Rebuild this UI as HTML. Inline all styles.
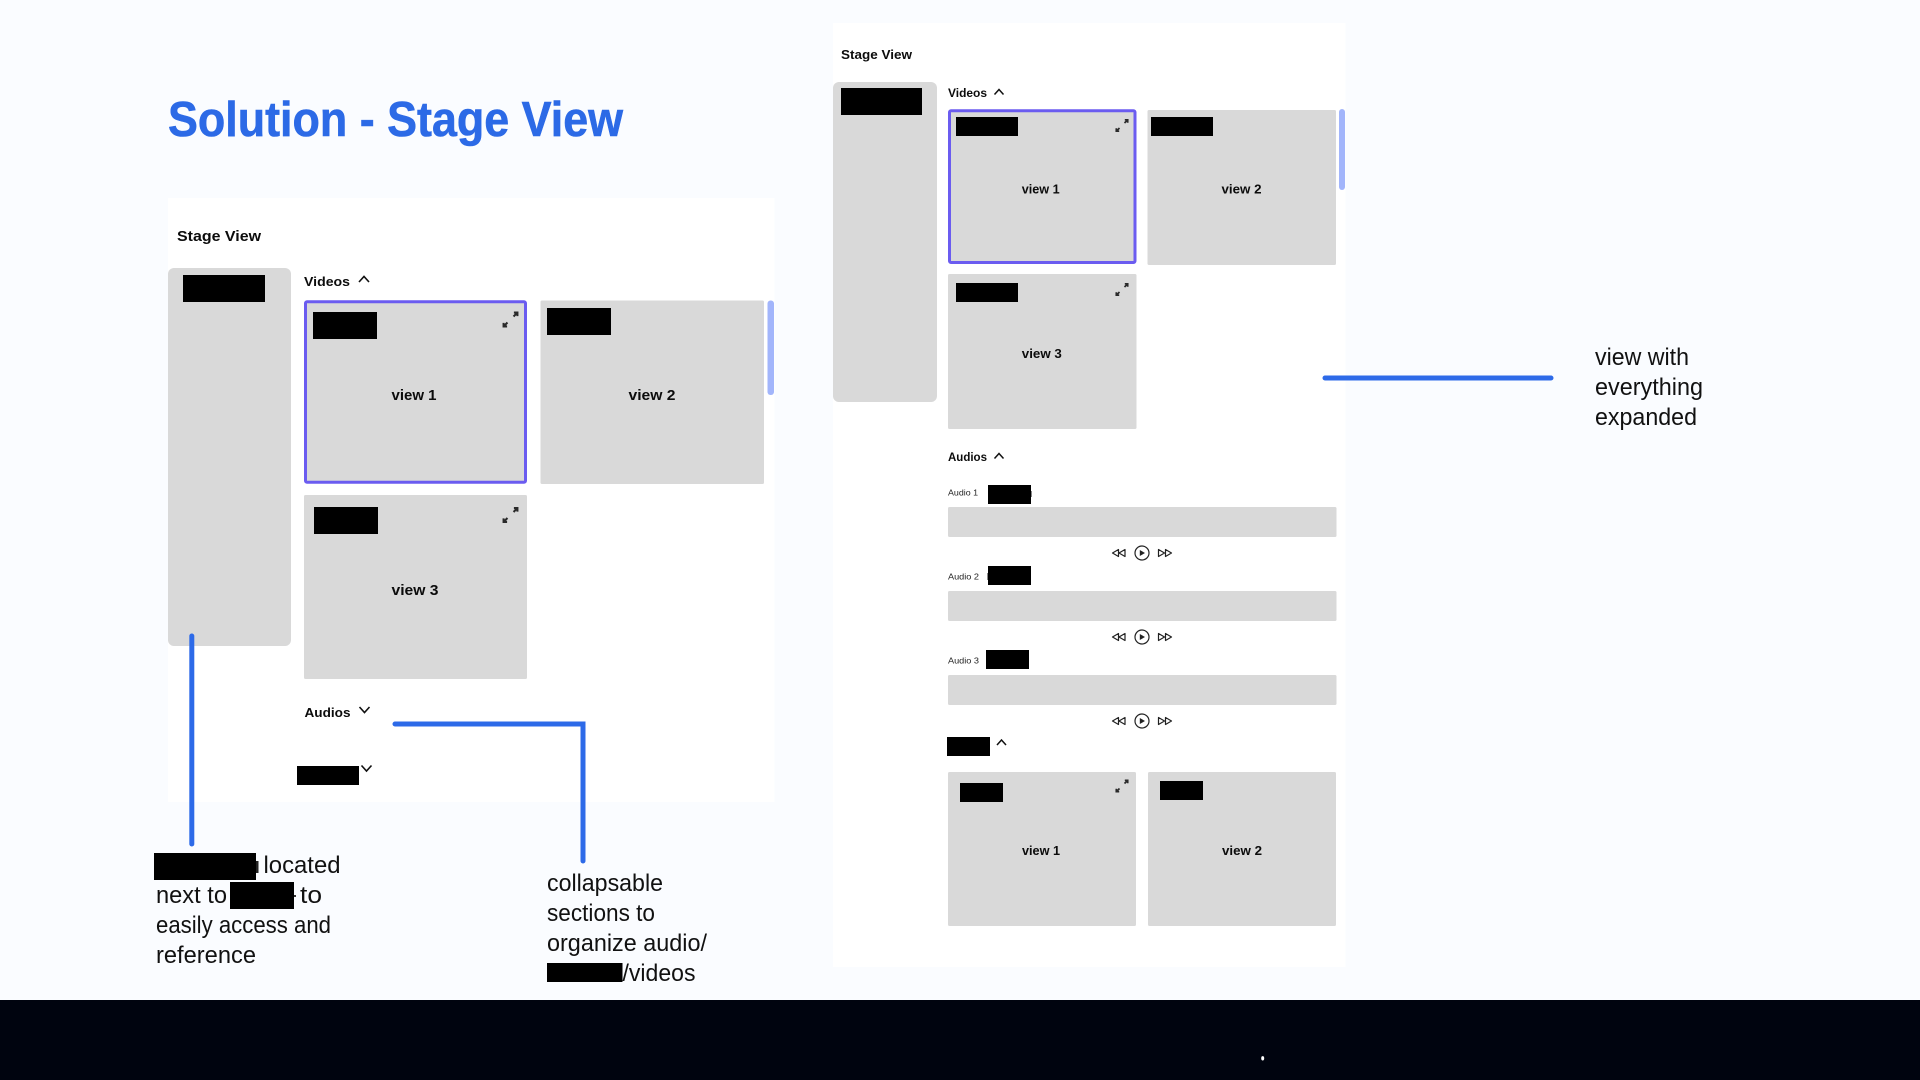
<!DOCTYPE html>
<html lang="en">
<head>
<meta charset="utf-8">
<title>Solution - Stage View</title>
<style>
html,body{margin:0;padding:0;width:1920px;height:1080px;overflow:hidden;background:#fafcff}
svg{display:block}
text{font-family:"Liberation Sans",sans-serif}
.b{font-weight:700;fill:#0c0c0c}
.n{fill:#111;font-size:24px}
.s{fill:#222;font-size:8.5px}
</style>
</head>
<body>
<svg width="1920" height="1080" viewBox="0 0 1920 1080" xmlns="http://www.w3.org/2000/svg">
<defs>
<symbol id="exp" viewBox="0 0 14 14"><path d="M9.5 4.500L12.500 1.500M9.800 1.300H12.700V4.200M4.500 9.500L1.500 12.500M1.300 9.800V12.700H4.200" fill="none" stroke="#2a2a2a" stroke-width="1.700"/></symbol>
<g id="ctrl" fill="none" stroke="#222" stroke-width="1.200">
<path d="M-29.500 0L-23.500 -3.500V3.500ZM-23 0L-17 -3.500V3.500Z" stroke-linejoin="round"/>
<circle cx="0" cy="0" r="7"/>
<path d="M-2.200 -3L3 0L-2.200 3Z" fill="#222" stroke="none"/>
<path d="M16.500 -3.500L22.500 0L16.500 3.500ZM23.500 -3.500L29.500 0L23.500 3.500Z" stroke-linejoin="round"/>
</g>
</defs>

<rect width="1920" height="1080" fill="#fafcff"/>

<!-- Title -->
<text x="168" y="136" font-size="49" font-weight="700" fill="#2c6ae6" stroke="#2c6ae6" stroke-width="0.6" textLength="455" lengthAdjust="spacingAndGlyphs">Solution - Stage View</text>

<!-- Left panel -->
<rect x="168" y="198" width="606.500" height="604" fill="#fff"/>
<text x="177" y="241" class="b" font-size="15" textLength="84" lengthAdjust="spacingAndGlyphs">Stage View</text>
<rect x="168" y="268" width="123" height="378" rx="6" fill="#d9d9d9"/>
<rect x="183" y="275" width="82" height="27" fill="#000"/>
<text x="304" y="286" class="b" font-size="13" textLength="46" lengthAdjust="spacingAndGlyphs">Videos</text>
<path d="M359 282L364 276.500L369 282" fill="none" stroke="#111" stroke-width="1.600"/>

<rect x="305.500" y="301.800" width="220" height="180.500" rx="1.500" fill="#d9d9d9" stroke="#6b5cf0" stroke-width="3"/>
<rect x="313" y="312" width="64" height="27" fill="#000"/>
<use href="#exp" x="502" y="311" width="17" height="17"/>
<text x="414" y="400" class="b" font-size="15" text-anchor="middle" textLength="45" lengthAdjust="spacingAndGlyphs">view 1</text>

<rect x="540.500" y="300.500" width="223.500" height="183.500" rx="1.500" fill="#d9d9d9"/>
<rect x="547" y="308" width="64" height="27" fill="#000"/>
<text x="652" y="400" class="b" font-size="15" text-anchor="middle" textLength="47" lengthAdjust="spacingAndGlyphs">view 2</text>
<rect x="767.500" y="300.500" width="6.500" height="94.500" rx="3" fill="#a2b5fb"/>

<rect x="304" y="495" width="223" height="184" rx="1.500" fill="#d9d9d9"/>
<rect x="314" y="507" width="64" height="27" fill="#000"/>
<use href="#exp" x="502" y="506.500" width="17" height="17"/>
<text x="415" y="595" class="b" font-size="15" text-anchor="middle" textLength="47" lengthAdjust="spacingAndGlyphs">view 3</text>

<text x="304.500" y="717" class="b" font-size="13" textLength="46" lengthAdjust="spacingAndGlyphs">Audios</text>
<path d="M359.500 707L364.500 712.500L369.500 707" fill="none" stroke="#111" stroke-width="1.600"/>
<rect x="297" y="766" width="62" height="19" fill="#000"/>
<path d="M361.500 765.500L366.500 771L371.500 765.500" fill="none" stroke="#111" stroke-width="1.600"/>

<!-- Right panel -->
<rect x="833" y="23" width="512.500" height="944" fill="#fff"/>
<text x="841" y="59" class="b" font-size="13" textLength="71" lengthAdjust="spacingAndGlyphs">Stage View</text>
<rect x="833" y="82" width="104" height="320" rx="6" fill="#d9d9d9"/>
<rect x="841" y="88" width="81" height="27" fill="#000"/>
<text x="948" y="97" class="b" font-size="11.500" textLength="39" lengthAdjust="spacingAndGlyphs">Videos</text>
<path d="M994.500 94.500L999 89.500L1003.500 94.500" fill="none" stroke="#111" stroke-width="1.500"/>

<rect x="949.500" y="110.800" width="185.500" height="151.700" rx="1.500" fill="#d9d9d9" stroke="#6b5cf0" stroke-width="3"/>
<rect x="956" y="117" width="62" height="19" fill="#000"/>
<use href="#exp" x="1115" y="118.500" width="14" height="14"/>
<text x="1040.700" y="193.300" class="b" font-size="13" text-anchor="middle" textLength="38" lengthAdjust="spacingAndGlyphs">view 1</text>

<rect x="1147.500" y="110" width="188.500" height="155" rx="1.500" fill="#d9d9d9"/>
<rect x="1151" y="117" width="62" height="19" fill="#000"/>
<text x="1241.500" y="193.300" class="b" font-size="13" text-anchor="middle" textLength="40" lengthAdjust="spacingAndGlyphs">view 2</text>
<rect x="1339" y="109" width="6" height="81" rx="3" fill="#a2b5fb"/>

<rect x="948" y="274" width="188.500" height="155" rx="1.500" fill="#d9d9d9"/>
<rect x="956" y="283" width="62" height="19" fill="#000"/>
<use href="#exp" x="1115" y="282.500" width="14" height="14"/>
<text x="1041.800" y="358" class="b" font-size="13" text-anchor="middle" textLength="40" lengthAdjust="spacingAndGlyphs">view 3</text>

<text x="948" y="461" class="b" font-size="11.500" textLength="39" lengthAdjust="spacingAndGlyphs">Audios</text>
<path d="M994.500 458.500L999 453.500L1003.500 458.500" fill="none" stroke="#111" stroke-width="1.500"/>

<text x="948" y="495.700" class="s" textLength="30" lengthAdjust="spacingAndGlyphs">Audio 1</text>
<rect x="988" y="485" width="43" height="19" fill="#000"/>
<rect x="1031" y="491" width="1" height="6" fill="#888"/>
<rect x="948" y="507" width="388.500" height="30" rx="1.500" fill="#d9d9d9"/>
<use href="#ctrl" x="1142" y="553"/>

<text x="948" y="579.700" class="s" textLength="31" lengthAdjust="spacingAndGlyphs">Audio 2</text>
<rect x="987" y="573" width="1" height="7" fill="#888"/>
<rect x="988" y="566" width="43" height="19" fill="#000"/>
<rect x="948" y="591" width="388.500" height="30" rx="1.500" fill="#d9d9d9"/>
<use href="#ctrl" x="1142" y="637"/>

<text x="948" y="663.700" class="s" textLength="31" lengthAdjust="spacingAndGlyphs">Audio 3</text>
<rect x="986" y="650" width="43" height="19" fill="#000"/>
<rect x="948" y="675" width="388.500" height="30" rx="1.500" fill="#d9d9d9"/>
<use href="#ctrl" x="1142" y="721"/>

<rect x="947" y="737" width="43" height="19" fill="#000"/>
<path d="M997 745L1001.500 740L1006 745" fill="none" stroke="#111" stroke-width="1.500"/>

<rect x="948" y="772" width="188" height="154" rx="1.500" fill="#d9d9d9"/>
<rect x="960" y="783" width="43" height="19" fill="#000"/>
<use href="#exp" x="1115" y="779" width="14" height="14"/>
<text x="1041" y="855" class="b" font-size="13" text-anchor="middle" textLength="38" lengthAdjust="spacingAndGlyphs">view 1</text>

<rect x="1148" y="772" width="188" height="154" rx="1.500" fill="#d9d9d9"/>
<rect x="1160" y="781" width="43" height="19" fill="#000"/>
<text x="1242" y="855" class="b" font-size="13" text-anchor="middle" textLength="40" lengthAdjust="spacingAndGlyphs">view 2</text>

<!-- Connectors (on top of panels) -->
<path d="M191.800 636V844" fill="none" stroke="#2d6ae8" stroke-width="5" stroke-linecap="round"/>
<path d="M395 724H583V861" fill="none" stroke="#2d6ae8" stroke-width="5" stroke-linecap="round"/>
<path d="M1325 378H1551" fill="none" stroke="#2d6ae8" stroke-width="5" stroke-linecap="round"/>

<!-- Left annotations -->
<text x="263.500" y="873" class="n" textLength="77" lengthAdjust="spacingAndGlyphs">located</text>
<text x="156" y="903" class="n" textLength="71" lengthAdjust="spacingAndGlyphs">next to</text>
<text x="300" y="903" class="n" textLength="22" lengthAdjust="spacingAndGlyphs">to</text>
<text x="156" y="933" class="n" textLength="175" lengthAdjust="spacingAndGlyphs">easily access and</text>
<text x="156" y="963" class="n" textLength="100" lengthAdjust="spacingAndGlyphs">reference</text>
<rect x="154" y="853" width="102" height="27" fill="#000"/>
<rect x="256" y="861" width="2.500" height="12" fill="#222"/>
<rect x="230" y="882" width="64" height="27" fill="#000"/>
<rect x="294" y="895" width="2" height="2" fill="#333"/>

<text x="547" y="891" class="n" textLength="116" lengthAdjust="spacingAndGlyphs">collapsable</text>
<text x="547" y="921" class="n" textLength="108" lengthAdjust="spacingAndGlyphs">sections to</text>
<text x="547" y="951" class="n" textLength="160" lengthAdjust="spacingAndGlyphs">organize audio/</text>
<rect x="547" y="963" width="75.500" height="19" fill="#000"/>
<text x="622.500" y="981" class="n" textLength="73" lengthAdjust="spacingAndGlyphs">/videos</text>

<!-- Right annotation -->
<text x="1595" y="365" class="n" textLength="94" lengthAdjust="spacingAndGlyphs">view with</text>
<text x="1595" y="395" class="n" textLength="108" lengthAdjust="spacingAndGlyphs">everything</text>
<text x="1595" y="425" class="n" textLength="102" lengthAdjust="spacingAndGlyphs">expanded</text>

<!-- Bottom bar -->
<rect x="0" y="1000" width="1920" height="80" fill="#00040f"/>
<ellipse cx="1262.700" cy="1058.300" rx="1.500" ry="2.200" fill="#fff"/>
</svg>
</body>
</html>
